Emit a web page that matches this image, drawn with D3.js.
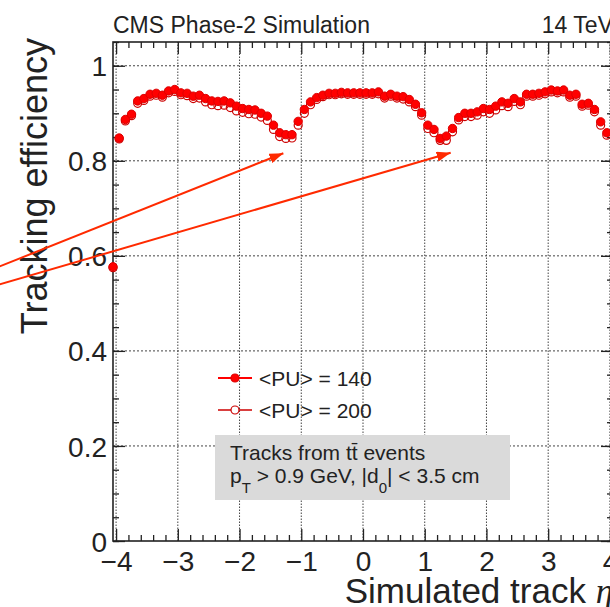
<!DOCTYPE html>
<html>
<head>
<meta charset="utf-8">
<script src="https://cdn.jsdelivr.net/npm/d3@7"></script>
<style>
body { margin: 0; background: #fff; }
svg { display: block; font-family: "Liberation Sans", Arial, sans-serif; }
</style>
</head>
<body>
<div class="chart"></div>
<script>
// eta bin centres (bin width 0.1)
const etaBins = [-4.05, -3.95, -3.85, -3.75, -3.65, -3.55, -3.45, -3.35, -3.25, -3.15,
    -3.05, -2.95, -2.85, -2.75, -2.65, -2.55, -2.45, -2.35, -2.25, -2.15,
    -2.05, -1.95, -1.85, -1.75, -1.65, -1.55, -1.45, -1.35, -1.25, -1.15,
    -1.05, -0.95, -0.85, -0.75, -0.65, -0.55, -0.45, -0.35, -0.25, -0.15,
    -0.05, 0.05, 0.15, 0.25, 0.35, 0.45, 0.55, 0.65, 0.75, 0.85,
    0.95, 1.05, 1.15, 1.25, 1.35, 1.45, 1.55, 1.65, 1.75, 1.85,
    1.95, 2.05, 2.15, 2.25, 2.35, 2.45, 2.55, 2.65, 2.75, 2.85,
    2.95, 3.05, 3.15, 3.25, 3.35, 3.45, 3.55, 3.65, 3.75, 3.85,
    3.95]
const effPU140 = [0.577, 0.848, 0.887, 0.898, 0.926, 0.931, 0.940, 0.942, 0.938, 0.947,
    0.950, 0.943, 0.942, 0.936, 0.938, 0.931, 0.926, 0.925, 0.926, 0.922,
    0.915, 0.910, 0.908, 0.907, 0.900, 0.894, 0.875, 0.859, 0.855, 0.855,
    0.883, 0.908, 0.924, 0.933, 0.938, 0.942, 0.942, 0.944, 0.943, 0.943,
    0.943, 0.943, 0.943, 0.945, 0.936, 0.940, 0.936, 0.935, 0.929, 0.919,
    0.901, 0.875, 0.866, 0.847, 0.852, 0.868, 0.891, 0.900, 0.900, 0.903,
    0.910, 0.908, 0.915, 0.924, 0.921, 0.931, 0.924, 0.940, 0.940, 0.942,
    0.945, 0.949, 0.947, 0.949, 0.938, 0.940, 0.919, 0.921, 0.908, 0.882,
    0.859]
const effPU200 = [0.575, 0.846, 0.884, 0.895, 0.921, 0.927, 0.936, 0.938, 0.934, 0.943,
    0.946, 0.939, 0.937, 0.931, 0.932, 0.924, 0.918, 0.916, 0.917, 0.912,
    0.905, 0.902, 0.899, 0.898, 0.892, 0.885, 0.866, 0.851, 0.847, 0.848,
    0.875, 0.900, 0.918, 0.929, 0.935, 0.939, 0.939, 0.941, 0.940, 0.940,
    0.940, 0.940, 0.940, 0.941, 0.932, 0.936, 0.932, 0.930, 0.924, 0.914,
    0.896, 0.868, 0.859, 0.843, 0.843, 0.861, 0.886, 0.893, 0.893, 0.896,
    0.903, 0.900, 0.907, 0.916, 0.914, 0.925, 0.918, 0.936, 0.936, 0.938,
    0.941, 0.945, 0.943, 0.945, 0.934, 0.936, 0.915, 0.917, 0.903, 0.875,
    0.854]
const xTickValues = [-4, -3, -2, -1, 0, 1, 2, 3, 4]
const xTickLabels = ["\u22124", "\u22123", "\u22122", "\u22121", "0", "1", "2", "3", "4"]
const yTickValues = [0, 0.2, 0.4, 0.6, 0.8, 1]
const yTickLabels = ["0", "0.2", "0.4", "0.6", "0.8", "1"]
const legendLabels = ["<PU> = 140", "<PU> = 200"]
// annotation arrows (eta, efficiency), they start outside the frame
const arrowStarts = [[-6.2, 0.5615], [-6.2, 0.528]]
const arrowEnds = [[-1.29, 0.816], [1.42, 0.817]]

var W = 610, H = 607
var margin = {top: 42, left: 113}
var width = 500, height = 499

const svg = d3.select(".chart").append("svg")
    .attr("width", W)
    .attr("height", H)

const xScale = d3.scaleLinear().domain([-4.05, 4.05]).range([margin.left, margin.left + width])
const yScale = d3.scaleLinear().domain([0, 1.05]).range([margin.top + height, margin.top])

const xMinor = d3.range(-40, 41, 2).map(d => d / 10).filter(d => !xTickValues.includes(d))
const yMinor = d3.range(0, 22).map(d => d * 0.05)

// grid
svg.append("g").selectAll("line")
    .data(xTickValues)
    .join("line")
    .attr("x1", d => xScale(d)).attr("x2", d => xScale(d))
    .attr("y1", yScale(0)).attr("y2", yScale(1.05))
    .attr("stroke", "#444").attr("stroke-width", 1)
    .attr("stroke-dasharray", "1.5,1.5")
svg.append("g").selectAll("line")
    .data(yTickValues.slice(1))
    .join("line")
    .attr("x1", xScale(-4.05)).attr("x2", xScale(4.05))
    .attr("y1", d => yScale(d)).attr("y2", d => yScale(d))
    .attr("stroke", "#444").attr("stroke-width", 1)
    .attr("stroke-dasharray", "2,2")

// axes, ticks inward like ROOT
function styleAxis(g) {
    g.select(".domain").remove()
    g.selectAll(".tick line").attr("stroke", "#222").attr("stroke-width", 1.3)
    g.selectAll(".tick text").attr("fill", "#222").attr("font-family", "Liberation Sans, Arial, sans-serif")
}
function tickOnly(g) {
    g.select(".domain").remove()
    g.selectAll(".tick text").remove()
    g.selectAll(".tick line").attr("stroke", "#222").attr("stroke-width", 1.3)
}

svg.append("g")
    .attr("transform", `translate(0, ${yScale(0)})`)
    .call(d3.axisBottom(xScale).tickValues(xTickValues).tickSizeInner(-12).tickSizeOuter(0).tickPadding(10)
        .tickFormat((d, i) => xTickLabels[i]))
    .call(styleAxis)
    .selectAll(".tick text").attr("font-size", 28).attr("dy", "0.71em")
svg.append("g")
    .attr("transform", `translate(0, ${yScale(0)})`)
    .call(d3.axisBottom(xScale).tickValues(xMinor).tickSizeInner(-6).tickSizeOuter(0))
    .call(tickOnly)
svg.append("g")
    .attr("transform", `translate(0, ${yScale(1.05)})`)
    .call(d3.axisTop(xScale).tickValues(xTickValues).tickSizeInner(-12).tickSizeOuter(0))
    .call(tickOnly)
svg.append("g")
    .attr("transform", `translate(0, ${yScale(1.05)})`)
    .call(d3.axisTop(xScale).tickValues(xMinor).tickSizeInner(-6).tickSizeOuter(0))
    .call(tickOnly)

svg.append("g")
    .attr("transform", `translate(${xScale(-4.05)}, 0)`)
    .call(d3.axisLeft(yScale).tickValues(yTickValues).tickSizeInner(-12).tickSizeOuter(0).tickPadding(6)
        .tickFormat((d, i) => yTickLabels[i]))
    .call(styleAxis)
    .selectAll(".tick text").attr("font-size", 28).attr("dy", "0.36em")
svg.append("g")
    .attr("transform", `translate(${xScale(-4.05)}, 0)`)
    .call(d3.axisLeft(yScale).tickValues(yMinor).tickSizeInner(-6).tickSizeOuter(0))
    .call(tickOnly)
svg.append("g")
    .attr("transform", `translate(${xScale(4.05)}, 0)`)
    .call(d3.axisRight(yScale).tickValues(yTickValues).tickSizeInner(-12).tickSizeOuter(0))
    .call(tickOnly)
svg.append("g")
    .attr("transform", `translate(${xScale(4.05)}, 0)`)
    .call(d3.axisRight(yScale).tickValues(yMinor).tickSizeInner(-6).tickSizeOuter(0))
    .call(tickOnly)

// frame
svg.append("rect")
    .attr("x", xScale(-4.05)).attr("y", yScale(1.05))
    .attr("width", xScale(4.05) - xScale(-4.05))
    .attr("height", yScale(0) - yScale(1.05))
    .attr("fill", "none").attr("stroke", "#222").attr("stroke-width", 1.6)

// data points
svg.append("g").selectAll("circle")
    .data(etaBins)
    .join("circle")
    .attr("cx", d => xScale(d))
    .attr("cy", (d, i) => yScale(effPU200[i]))
    .attr("r", 4)
    .attr("fill", "none").attr("stroke", "#cc0000").attr("stroke-width", 1.2)
svg.append("g").selectAll("circle")
    .data(etaBins)
    .join("circle")
    .attr("cx", d => xScale(d))
    .attr("cy", (d, i) => yScale(effPU140[i]))
    .attr("r", 4.2)
    .attr("fill", "#ff0000").attr("stroke", "#dd0000").attr("stroke-width", 1)

// legend
const legend = svg.append("g")
legendLabels.forEach((lbl, i) => {
    var ly = 378 + i * 32
    legend.append("line")
        .attr("x1", 218).attr("x2", 252).attr("y1", ly).attr("y2", ly)
        .attr("stroke", i == 0 ? "#ff0000" : "#cc0000")
        .attr("stroke-width", i == 0 ? 2.2 : 1.4)
    legend.append("circle")
        .attr("cx", 235).attr("cy", ly).attr("r", 4)
        .attr("fill", i == 0 ? "#ff0000" : "#fff")
        .attr("stroke", i == 0 ? "#dd0000" : "#cc0000").attr("stroke-width", 1.2)
    legend.append("text")
        .attr("x", 259).attr("y", ly + 7.5)
        .attr("font-size", 21).attr("fill", "#222")
        .text(lbl)
})

// info box
const box = svg.append("g")
box.append("rect")
    .attr("x", 215).attr("y", 435).attr("width", 295).attr("height", 65)
    .attr("fill", "#dadada")
box.append("text")
    .attr("x", 230).attr("y", 460)
    .attr("font-size", 21).attr("fill", "#222")
    .text("Tracks from tt\u0304 events")
const line2 = box.append("text")
    .attr("x", 230).attr("y", 483)
    .attr("font-size", 21).attr("fill", "#222")
line2.append("tspan").text("p")
line2.append("tspan").attr("dy", 10).attr("font-size", 15).text("T")
line2.append("tspan").attr("dy", -10).text(" > 0.9 GeV, |d")
line2.append("tspan").attr("dy", 10).attr("font-size", 15).text("0")
line2.append("tspan").attr("dy", -10).text("| < 3.5 cm")

// titles
svg.append("text")
    .attr("x", margin.left).attr("y", 33)
    .attr("font-size", 23).attr("fill", "#222")
    .text("CMS Phase-2 Simulation")
svg.append("text")
    .attr("x", xScale(4.05)).attr("y", 33)
    .attr("text-anchor", "end")
    .attr("font-size", 23).attr("fill", "#222")
    .text("14 TeV")
svg.append("text")
    .attr("transform", "translate(47, 38) rotate(-90)")
    .attr("text-anchor", "end")
    .attr("font-size", 36).attr("fill", "#222")
    .text("Tracking efficiency")
const xTitle = svg.append("text")
    .attr("x", xScale(4.05)).attr("y", 603)
    .attr("text-anchor", "end")
    .attr("font-size", 35).attr("fill", "#222")
xTitle.append("tspan").text("Simulated track ")
xTitle.append("tspan")
    .attr("font-family", "Liberation Serif, serif").attr("font-style", "italic")
    .text("\u03b7")

// arrows
svg.append("defs").append("marker")
    .attr("id", "arrowhead")
    .attr("viewBox", "0 0 14 10")
    .attr("refX", 14).attr("refY", 5)
    .attr("markerWidth", 14).attr("markerHeight", 10)
    .attr("markerUnits", "userSpaceOnUse")
    .attr("orient", "auto")
    .append("path")
    .attr("d", "M0,0 L14,5 L0,10 Z")
    .attr("fill", "#ff2a00")

svg.append("g").selectAll("line")
    .data(arrowStarts)
    .join("line")
    .attr("x1", d => xScale(d[0])).attr("y1", d => yScale(d[1]))
    .attr("x2", (d, i) => xScale(arrowEnds[i][0])).attr("y2", (d, i) => yScale(arrowEnds[i][1]))
    .attr("stroke", "#ff2a00").attr("stroke-width", 2)
    .attr("marker-end", "url(#arrowhead)")
</script>
</body>
</html>
